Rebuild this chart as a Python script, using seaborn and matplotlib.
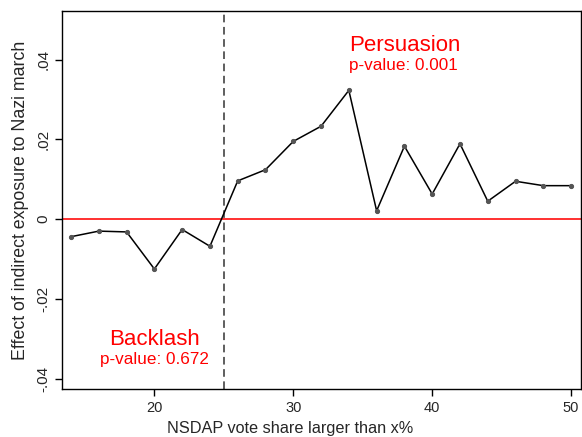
import numpy as np
import pandas as pd
import matplotlib.pyplot as plt
import seaborn as sns

threshold = [14, 16, 18, 20, 22, 24, 26, 28, 30, 32, 34, 36, 38, 40, 42, 44, 46, 48, 50]
effect = [-0.0044, -0.0030, -0.0032, -0.0125, -0.0026, -0.0068, 0.0096, 0.0124, 0.0195,
          0.0233, 0.0323, 0.0021, 0.0183, 0.0063, 0.0189, 0.0045, 0.0095, 0.0084, 0.0084]
ytick_vals = [-0.04, -0.02, 0, 0.02, 0.04]
ytick_labels = ['-.04', '-.02', '0', '.02', '.04']
xtick_vals = [20, 30, 40, 50]

df = pd.DataFrame({'threshold': threshold, 'effect': effect})

sns.set_style('white')
plt.rcParams['font.family'] = ['Liberation Sans', 'DejaVu Sans']

fig = plt.figure(figsize=(5.82, 4.37), dpi=100)
ax = fig.add_axes([0.1065, 0.1098, 0.8915, 0.865])

ax.axhline(0, color='#ff2020', lw=1.3, zorder=1)
ax.axvline(25, color='#333333', lw=1.1, ls=(0, (5, 3)), zorder=1)

sns.lineplot(data=df, x='threshold', y='effect', ax=ax, color='black', lw=1.1,
             marker='o', markersize=3, markerfacecolor='#555555',
             markeredgecolor='#555555', zorder=3)

ax.set_xlim(13.35, 50.7)
ax.set_ylim(-0.0426, 0.0522)
ax.set_xticks(xtick_vals)
ax.set_yticks(ytick_vals)
ax.set_yticklabels(ytick_labels, rotation=90, va='center')
ax.tick_params(axis='both', direction='out', length=5, width=1,
               color='black', bottom=True, left=True)
ax.tick_params(axis='x', labelsize=10.5)
ax.tick_params(axis='y', labelsize=11)
ax.set_xlabel('NSDAP vote share larger than x%', fontsize=11.7)
ax.set_ylabel('Effect of indirect exposure to Nazi march', fontsize=12.8, labelpad=5)
# x title sits centred on the figure, not the plot area
ax.xaxis.set_label_coords(0.44, -0.085)

for s in ax.spines.values():
    s.set_color('black')
    s.set_linewidth(1)

ax.text(34.0, 0.0435, 'Persuasion', color='red', fontsize=16, ha='left', va='center')
ax.text(34.0, 0.0385, 'p-value: 0.001', color='red', fontsize=12.3, ha='left', va='center')
ax.text(20.0, -0.0303, 'Backlash', color='red', fontsize=16, ha='center', va='center')
ax.text(20.0, -0.0353, 'p-value: 0.672', color='red', fontsize=12.3, ha='center', va='center')

plt.savefig('out.png', dpi=100)
